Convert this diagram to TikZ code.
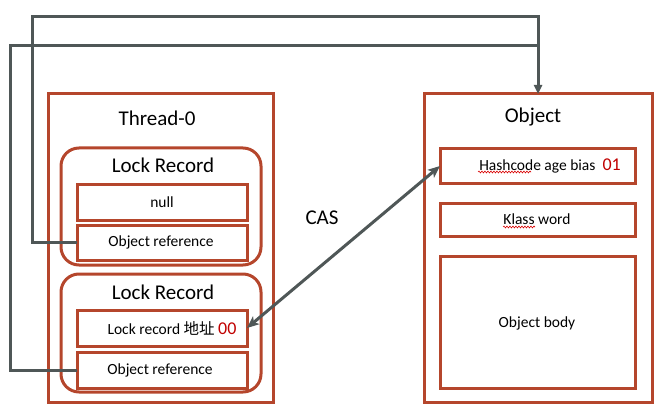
\documentclass[tikz,border=0pt]{standalone}
\usepackage{fontspec}
\setmainfont{Carlito}
\newfontfamily\cjk{Noto Sans CJK SC}
\usetikzlibrary{arrows.meta,decorations.pathmorphing}
\definecolor{boxred}{HTML}{B5462C}
\definecolor{lineg}{HTML}{4F5757}
\definecolor{numred}{HTML}{C00000}
\begin{document}
\begin{tikzpicture}[x=1pt,y=-1pt,
  box/.style={draw=boxred,line width=3pt,inner sep=0pt,outer sep=0pt},
  rbox/.style={box,rounded corners=18pt},
  title/.style={font=\fontsize{21}{24}\selectfont,inner sep=0pt},
  txt/.style={font=\fontsize{15.5}{18}\selectfont,inner sep=0pt},
  conn/.style={draw=lineg,line width=3pt},
  spell/.style={draw=red!85!black,line width=0.6pt,decorate,decoration={snake,amplitude=0.9pt,segment length=3pt}}]
\useasboundingbox (0,0) rectangle (671,414);
% Thread side
\node[box,minimum width=225pt,minimum height=308pt] (thread) at (160.5,248) {};
\node[title] (threadt) at (157,118) {Thread-0};
\node[rbox,minimum width=200pt,minimum height=117pt] (lr1) at (161,206.5) {};
\node[title] (lr1t) at (163,165) {Lock Record};
\node[box,minimum width=170pt,minimum height=36pt] (null) at (162,202) {};
\node[txt] (nullt) at (162,202) {null};
\node[box,minimum width=170pt,minimum height=35pt] (oref1) at (162,242.5) {};
\node[txt] (oref1t) at (161,242.5) {Object reference};
\node[rbox,minimum width=200pt,minimum height=118pt] (lr2) at (161,333) {};
\node[title] (lr2t) at (163,292) {Lock Record};
\node[box,minimum width=170pt,minimum height=36pt] (lrec) at (162,328) {};
\node[txt] (lrect) at (172,328) {Lock record {\cjk 地址} \textcolor{numred}{\fontsize{18}{20}\selectfont 00}};
\node[box,minimum width=170pt,minimum height=36pt] (oref2) at (162,370) {};
\node[txt] (oref2t) at (160,370) {Object reference};
% Object side
\node[box,minimum width=228pt,minimum height=308pt] (obj) at (538,248) {};
\node[title] (objt) at (533,117) {Object};
\node[box,minimum width=195pt,minimum height=34pt] (hash) at (537.5,166) {};
\node[txt] (hasht) at (550,166) {Hashcode age bias\hspace{7pt}\textcolor{numred}{\fontsize{18}{20}\selectfont 01}};
\node[box,minimum width=195pt,minimum height=33pt] (klass) at (537.5,219.5) {};
\node[txt] (klasst) at (537,219) {Klass word};
\node[box,minimum width=195pt,minimum height=132pt] (body) at (537.5,322) {};
\node[txt] (bodyt) at (537,323) {Object body};
% spell-check underlines
\draw[spell] (478,172) -- (531,172);
\draw[spell] (503,227) -- (535,227);
% CAS label
\node[title] (cas) at (322,218) {CAS};
% connectors
\coordinate (c1) at (32,17);
\coordinate (c2) at (10,46);
\draw[conn,-{Triangle[length=9pt,width=8pt]}] (oref1.west) -| (c1) -| (obj.north);
\draw[conn] (oref2.west) -| (c2) -- (c2 -| obj.north);
\draw[conn,{Stealth[length=12pt,width=10pt,inset=3pt]}-{Stealth[length=12pt,width=10pt,inset=3pt]}] (lrec.east) -- (hash.west);
\end{tikzpicture}
\end{document}
